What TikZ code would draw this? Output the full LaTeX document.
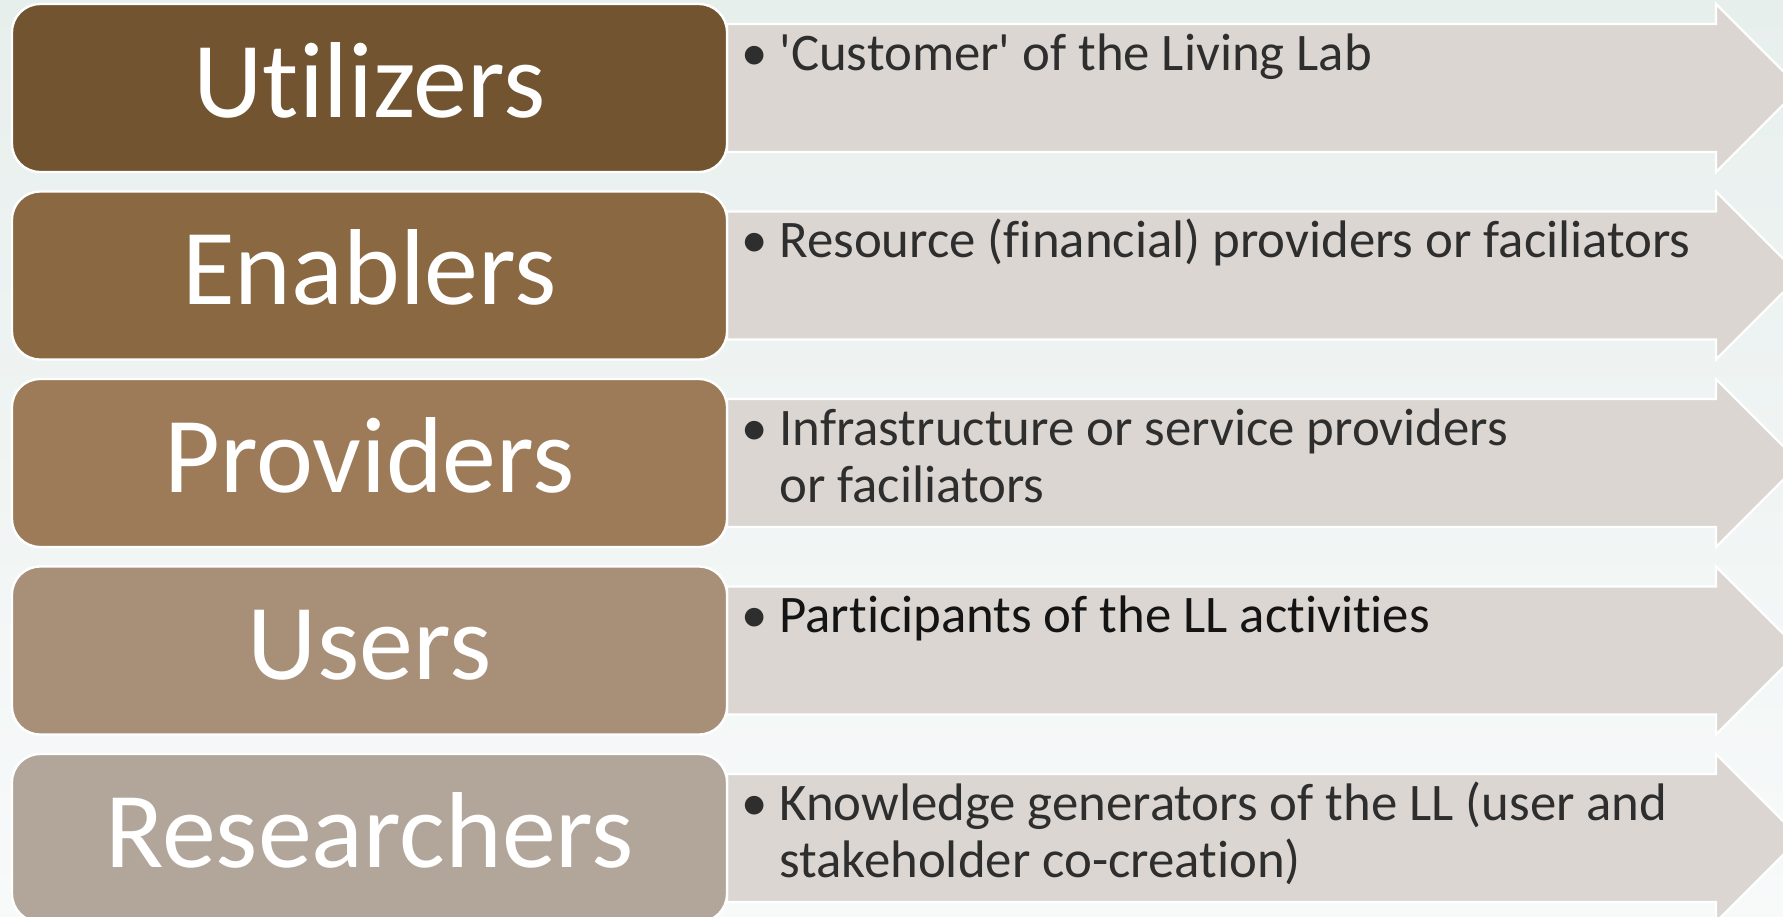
\documentclass[tikz,border=0pt]{standalone}
\usepackage{fontspec}
\setmainfont[Ligatures=NoCommon]{Carlito}
\definecolor{bgtop}{HTML}{E7EFED}
\definecolor{bgbot}{HTML}{F8FAFA}
\definecolor{arrowfill}{HTML}{DBD6D1}
\definecolor{darktext}{HTML}{2E2E2E}
\definecolor{shadeA}{RGB}{114,84,49}
\definecolor{shadeB}{RGB}{138,104,66}
\definecolor{shadeC}{RGB}{157,123,89}
\definecolor{shadeD}{RGB}{167,143,120}
\definecolor{shadeE}{RGB}{178,166,154}
\tikzset{
	rowbox/.style={draw=white,line width=1.2pt,rounded corners=14pt},
	rowarrow/.style={draw=white,line width=1.2pt,fill=arrowfill,line join=miter},
	rowlabel/.style={anchor=base,text=white,inner sep=0pt,font=\fontsize{54}{60}\selectfont},
	rowbullet/.style={anchor=base west,text=darktext,inner sep=0pt,font=\fontsize{26.4}{28.5}\selectfont},
	rowtext/.style={rowbullet}
}
\begin{document}
\begin{tikzpicture}[x=0.5pt,y=-0.5pt]
		\clip(0,0)rectangle(1783,916);
		\shade[top color=bgtop,bottom color=bgbot](0,0)rectangle(1783,916);
		\pgfmathsetmacro{\pitch}{187.5}
		\foreach \i/\col/\lab/\txt in {
			1/shadeA/Utilizers/{\textquotesingle Customer\textquotesingle\ of the Living Lab},
			2/shadeB/Enablers/{Resource (financial) providers or faciliators},
			3/shadeC/Providers/{Infrastructure or service providers\\or faciliators},
			4/shadeD/Users/{\color{black!92}Participants of the LL activities},
			5/shadeE/Researchers/{Knowledge generators of the LL (user and\\stakeholder co-creation)}}{
			\pgfmathsetmacro{\t}{4+\pitch*(\i-1)}
			% arrow behind the box
			\draw[rowarrow](727,\t+20)--(1716,\t+20)--(1716,\t)--(1800,\t+84)
				--(1716,\t+168)--(1716,\t+148)--(727,\t+148)--cycle;
			\draw[rowbox,fill=\col](12,\t)rectangle(727,\t+168);
			\node[rowlabel](lab\i)at(369.5,\t+113){\lab};
			\node[rowbullet](bul\i)at(741,\t+66){\textbullet};
			\node[rowtext](txt\i)at(779,\t+66){\begin{tabular}[t]{@{}l@{}}\txt\end{tabular}};
		}

	\end{tikzpicture}
\end{document}
